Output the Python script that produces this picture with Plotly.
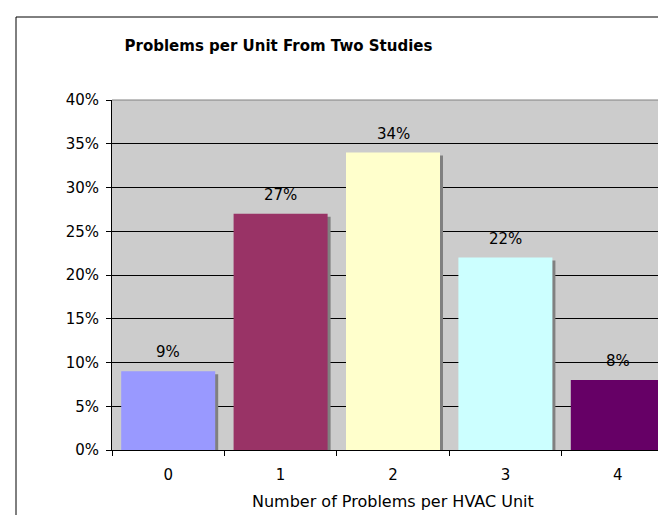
import plotly.graph_objects as go

categories = ["0", "1", "2", "3", "4"]
values = [9, 27, 34, 22, 8]
bar_colors = ["#9999FF", "#993366", "#FFFFCC", "#CCFFFF", "#660066"]
y_ticks = [0, 5, 10, 15, 20, 25, 30, 35, 40]
y_tick_labels = [f"{t}%" for t in y_ticks]

FONT = "DejaVu Sans"
W, H = 666, 515
ML, MR, MT, MB = 104, 0, 92, 73
plot_w = W - ML - MR
plot_h = H - MT - MB
bar_w = 94 / (plot_w / 5)
sh_dx = 3 / (plot_w / 5)
sh_dy = 3 / (plot_h / 40)

fig = go.Figure()
# shadows
fig.add_trace(go.Bar(
    x=categories, y=[v - sh_dy for v in values],
    width=bar_w, offset=-bar_w / 2 + sh_dx,
    marker=dict(color="#808080", line=dict(width=0)),
    hoverinfo="skip", showlegend=False,
))
fig.add_trace(go.Bar(
    x=categories, y=values,
    width=bar_w, offset=-bar_w / 2,
    marker=dict(color=bar_colors, line=dict(width=0)),
    showlegend=False,
))

for c, v in zip(categories, values):
    fig.add_annotation(x=c, y=v, text=f"{v}%", showarrow=False,
                       yshift=8, yanchor="bottom",
                       font=dict(family=FONT, size=15, color="#000000"))

fig.add_annotation(xref="paper", yref="paper", x=0.5, y=-(493 - (H - MB)) / plot_h,
                   text="Number of Problems per HVAC Unit", showarrow=False,
                   yanchor="middle", font=dict(family=FONT, size=16, color="#000000"))

# outer chart border and gray top edge of plot area
fig.add_shape(type="rect", xref="paper", yref="paper",
              x0=(8 - ML) / plot_w, x1=1.2, y0=-0.5, y1=(H - MB - 9) / plot_h,
              line=dict(color="#000000", width=1), fillcolor="rgba(0,0,0,0)", layer="above")
fig.add_shape(type="line", xref="paper", yref="paper", x0=0, x1=1, y0=1, y1=1,
              line=dict(color="#808080", width=1), layer="above")

fig.update_layout(
    width=W, height=H,
    margin=dict(l=ML, r=MR, t=MT, b=MB),
    paper_bgcolor="#FFFFFF", plot_bgcolor="#CCCCCC",
    barmode="overlay",
    font=dict(family=FONT, size=15, color="#000000"),
    title=dict(text="<b>Problems per Unit From Two Studies</b>",
               xref="container", yref="container",
               x=270.5 / W, y=1 - 38 / H, xanchor="center", yanchor="middle",
               font=dict(family=FONT, size=15, color="#000000")),
    xaxis=dict(type="category", range=[-0.5, 4.5], showgrid=False,
               showline=True, linecolor="#000000", linewidth=1,
               ticks="outside", ticklen=5, tickcolor="#000000", tickson="boundaries",
               ticklabelstandoff=11,
               tickfont=dict(family=FONT, size=15, color="#000000")),
    yaxis=dict(range=[0, 40], tickvals=y_ticks, ticktext=y_tick_labels,
               showgrid=True, gridcolor="#000000", gridwidth=1, zeroline=False,
               showline=True, linecolor="#000000", linewidth=1,
               ticks="outside", ticklen=5, tickcolor="#000000",
               ticklabelstandoff=4,
               tickfont=dict(family=FONT, size=15, color="#000000")),
)

fig.write_html("out.html")
